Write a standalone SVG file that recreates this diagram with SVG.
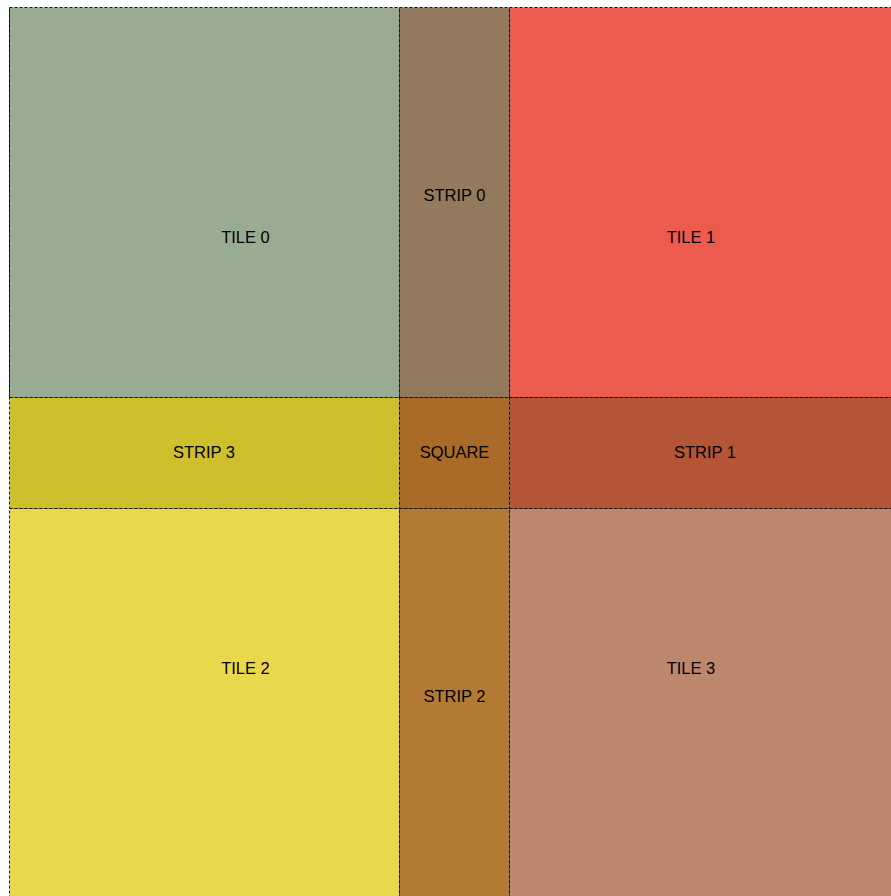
<svg xmlns="http://www.w3.org/2000/svg" width="891" height="896" viewBox="0 0 891 896">
<style>
.r{stroke:#000;stroke-width:1;stroke-dasharray:3,2;stroke-opacity:0.9}
.t{font-family:"Liberation Sans",Arial,sans-serif;font-size:16.5px;fill:#000;text-anchor:middle}
</style>
<rect width="891" height="896" fill="#ffffff"/>
<g id="tile0"><rect class="r" x="9.5" y="7.5" width="390" height="390" fill="#9aab93"/><text class="t" x="245.5" y="243">TILE 0</text></g>
<g id="strip0"><rect class="r" x="399.5" y="7.5" width="110" height="390" fill="#937a5e"/><text class="t" x="454.5" y="201">STRIP 0</text></g>
<g id="tile1"><rect class="r" x="509.5" y="7.5" width="390" height="390" fill="#ed5a4e"/><text class="t" x="691" y="243">TILE 1</text></g>
<g id="strip3"><rect class="r" x="9.5" y="397.5" width="390" height="111" fill="#cebf2c"/><text class="t" x="204" y="458">STRIP 3</text></g>
<g id="square"><rect class="r" x="399.5" y="397.5" width="110" height="111" fill="#aa6a28"/><text class="t" x="454.5" y="458">SQUARE</text></g>
<g id="strip1"><rect class="r" x="509.5" y="397.5" width="390" height="111" fill="#b55537"/><text class="t" x="705" y="458">STRIP 1</text></g>
<g id="tile2"><rect class="r" x="9.5" y="508.5" width="390" height="400" fill="#ead84c"/><text class="t" x="245.5" y="674">TILE 2</text></g>
<g id="strip2"><rect class="r" x="399.5" y="508.5" width="110" height="400" fill="#b47a35"/><text class="t" x="454.5" y="702">STRIP 2</text></g>
<g id="tile3"><rect class="r" x="509.5" y="508.5" width="390" height="400" fill="#bd876d"/><text class="t" x="691" y="674">TILE 3</text></g>
<g id="connectors"><line x1="9.5" y1="7.5" x2="9.5" y2="397.5" stroke="#000" stroke-width="1" stroke-opacity="0.7"/></g>
</svg>
